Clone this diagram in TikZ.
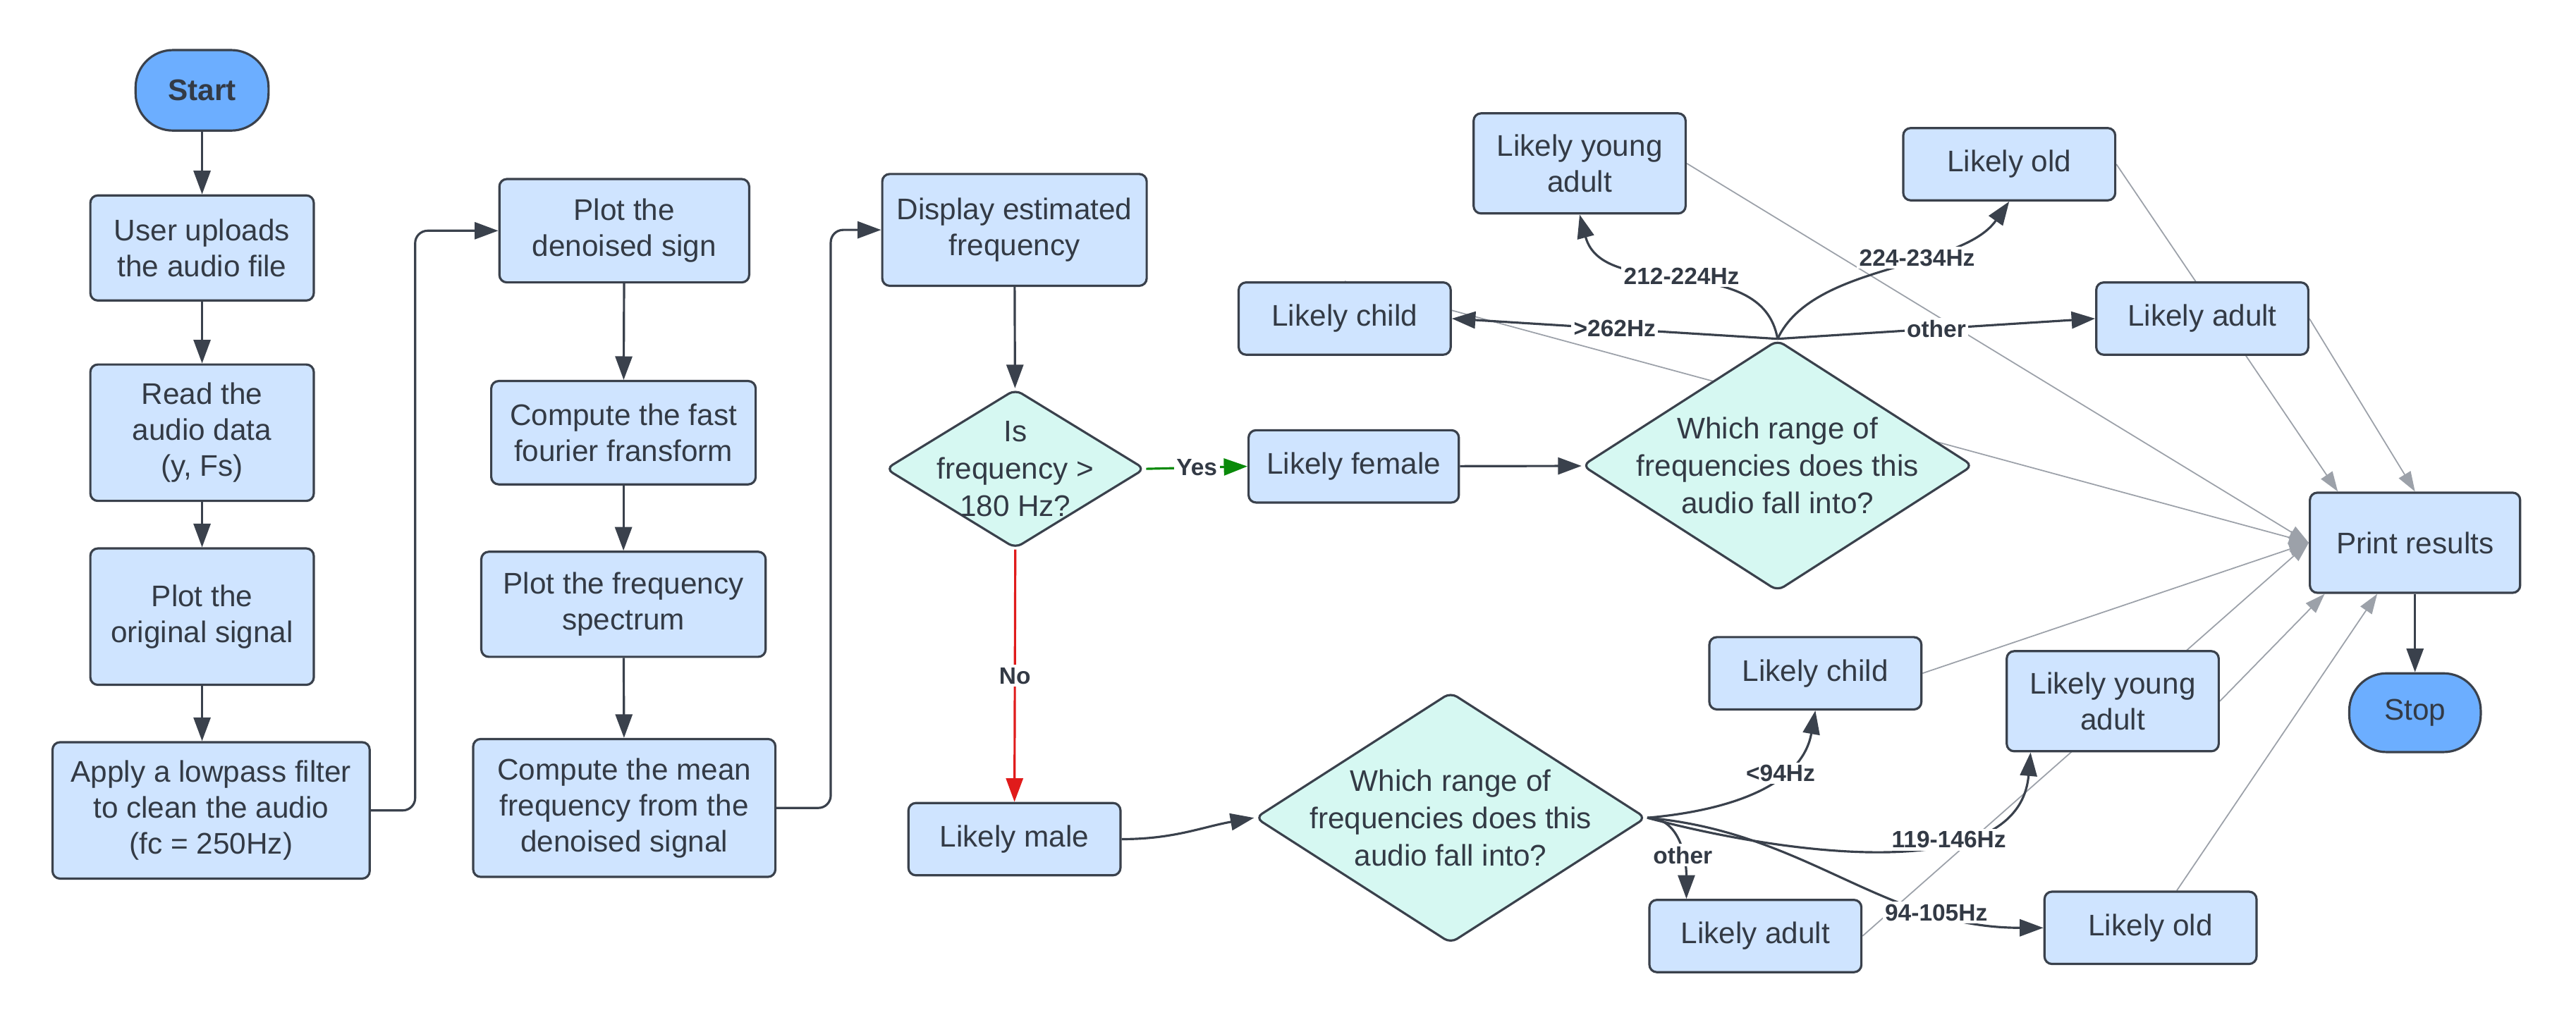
\documentclass[tikz,border=0pt]{standalone}
\usepackage{fontspec}
\setmainfont{Liberation Sans}
\usepackage{xcolor}
\usepackage{tikz}
\usetikzlibrary{arrows.meta,shapes.geometric,calc,backgrounds}

\definecolor{boxblue}{HTML}{CFE4FF}
\definecolor{termblue}{HTML}{6CAEFF}
\definecolor{mint}{HTML}{D6F8F2}
\definecolor{linegray}{HTML}{3A414C}
\definecolor{textgray}{HTML}{333A45}
\definecolor{fadegray}{HTML}{9CA1A9}
\definecolor{yesgreen}{HTML}{0A8A0A}
\definecolor{nored}{HTML}{E01B1B}

\tikzset{
    process/.style={
      rectangle,
      rounded corners=3pt,
      draw=linegray, line width=0.9pt,
      fill=boxblue,
      text=textgray,
      align=center,
      inner sep=2pt,
      font=\fontsize{12}{14.5}\selectfont,
    },
    terminal/.style={
      process,
      rounded corners=15pt,
      fill=termblue,
      minimum width=53.5pt,
      minimum height=32.4pt,
    },
    decision/.style={
      diamond, aspect=1.55,
      rounded corners=3pt,
      draw=linegray, line width=0.9pt,
      fill=mint,
      text=textgray,
      align=center,
      inner xsep=-8pt, inner ysep=-6pt,
      font=\fontsize{12}{15}\selectfont,
    },
    flow/.style={->, color=linegray, line width=0.9pt},
    fade/.style={->, color=fadegray, line width=0.5pt, >={Triangle[length=8pt,width=5.5pt]}},
    cond/.style={fill=white, inner sep=1pt, text=textgray, font=\fontsize{9.5}{11}\selectfont\bfseries},
}

\begin{document}
\begin{tikzpicture}[x=0.661pt, y=0.661pt, >={Triangle[length=9.5pt,width=6.8pt]}]

    \useasboundingbox (0,0) rectangle (1568,-625.4);

    % first column
    \node[terminal, font=\fontsize{12}{14.5}\selectfont\bfseries] (start) at (123,-55) {Start};
    \node[process, minimum width=89.9pt, minimum height=42.3pt] (upload) at (123,-151) {User uploads\\the audio file};
    \node[process, minimum width=89.9pt, minimum height=54.9pt] (read) at (123,-263.5) {Read the\\audio data\\(y, Fs)};
    \node[process, minimum width=89.9pt, minimum height=54.9pt] (plotorig) at (123,-375.5) {Plot the\\original signal};
    \node[process, minimum width=127.6pt, minimum height=54.9pt] (lowpass) at (128.5,-493.5) {Apply a lowpass filter\\to clean the audio\\(fc = 250Hz)};

    % second column
    \node[process, minimum width=100.5pt, minimum height=41.6pt] (denoised) at (380,-140.5) {Plot the\\denoised sign};
    \node[process, minimum width=106.4pt, minimum height=41.6pt] (fft) at (379.5,-263.5) {Compute the fast\\fourier fransform};
    \node[process, minimum width=114.4pt, minimum height=42.3pt] (spectrum) at (379.5,-368) {Plot the frequency\\spectrum};
    \node[process, minimum width=121.6pt, minimum height=55.5pt] (mean) at (380,-492) {Compute the mean\\frequency from the\\denoised signal};

    % decisions
    \node[process, minimum width=106.4pt, minimum height=45pt] (display) at (617.5,-140) {Display estimated\\frequency};
    \node[decision, minimum width=104.4pt, minimum height=64.1pt] (isfreq) at (618,-285.5) {Is\\frequency >\\180 Hz?};
    \node[process, minimum width=84.6pt, minimum height=29.1pt] (female) at (824,-284) {Likely female};
    \node[process, minimum width=85.3pt, minimum height=29.1pt] (male) at (617.5,-511) {Likely male};
    \node[decision, minimum width=157.3pt, minimum height=101.1pt] (range1) at (1082,-283.5) {Which range of\\frequencies does this\\audio fall into?};
    \node[decision, minimum width=157.3pt, minimum height=101.1pt] (range2) at (883,-498) {Which range of\\frequencies does this\\audio fall into?};

    % results
    \node[process, minimum width=85.3pt, minimum height=40.3pt] (youngT) at (961.5,-99.5) {Likely young\\adult};
    \node[process, minimum width=85.3pt, minimum height=29.1pt] (childT) at (818.5,-194) {Likely child};
    \node[process, minimum width=85.3pt, minimum height=29.1pt] (oldT) at (1223,-100) {Likely old};
    \node[process, minimum width=85.3pt, minimum height=29.1pt] (adultT) at (1340.5,-194) {Likely adult};
    \node[process, minimum width=85.3pt, minimum height=29.1pt] (childB) at (1105,-410) {Likely child};
    \node[process, minimum width=85.3pt, minimum height=40.3pt] (youngB) at (1286,-427) {Likely young\\adult};
    \node[process, minimum width=85.3pt, minimum height=29.1pt] (adultB) at (1068.5,-570) {Likely adult};
    \node[process, minimum width=85.3pt, minimum height=29.1pt] (oldB) at (1309,-565) {Likely old};
    \node[process, minimum width=84.6pt, minimum height=40.3pt] (print) at (1470,-330.5) {Print results};
    \node[terminal, minimum width=52.9pt, minimum height=31.7pt] (stop) at (1470,-434) {Stop};

    \coordinate (youngBin) at ($(youngB.south)+(-50,0)$);
    \coordinate (adultBin) at ($(adultB.north)+(-42,0)$);

    \begin{pgfonlayer}{background}
    \path[fade]
    (youngT.east) edge (print.west)
    (childT.north) edge (print.west)
    (oldT.east) edge ($(print.north)+(-47,0)$)
    (adultT.east) edge (print.north)
    (childB.east) edge (print.west)
    (adultB.east) edge (print.west)
    (youngB.east) edge ($(print.south)+(-55,0)$)
    ($(oldB.north)+(16,0)$) edge ($(print.south)+(-23,0)$)
    ;
    \end{pgfonlayer}

    \path[flow]
    (start) edge (upload)
    (upload) edge (read)
    (read) edge (plotorig)
    (plotorig.south) edge (plotorig.south |- lowpass.north)
    (denoised) edge (fft)
    (fft) edge (spectrum)
    (spectrum) edge (mean)
    (display) edge (isfreq)
    (female) edge (range1)
    (male.east) edge[out=0, in=190] (range2.west)
    (print) edge (stop)

    (isfreq.east) edge[draw=yesgreen] node[cond]{Yes} (female.west)
    (isfreq.south) edge[draw=nored] node[cond]{No} (male.north)

    (range1.north) edge node[cond]{>262Hz} (childT.east)
    (range1.north) edge node[cond]{other} (adultT.west)
    (range1.north) edge[out=100, in=-75] node[cond]{212-224Hz} (youngT.south)
    (range1.north) edge[out=65, in=-125, looseness=0.8] node[cond, pos=0.6]{224-234Hz} (oldT.south)

    (range2.east) edge[out=5, in=-100] node[cond, pos=0.65]{<94Hz} (childB.south)
    (range2.east) edge[out=-15, in=-95, looseness=0.9] node[cond, pos=0.65]{119-146Hz} (youngBin)
    (range2.east) edge[out=-5, in=180] node[cond, pos=0.75]{94-105Hz} (oldB.west)
    (range2.east) edge[out=0, in=90] node[cond, pos=0.6]{other} (adultBin)
    ;

    \draw[flow, rounded corners=5pt] (lowpass.east) -- ++(27,0) |- (denoised.west);
    \draw[flow, rounded corners=5pt] (mean.east) -- ++(33,0) |- (display.west);

\end{tikzpicture}
\end{document}
